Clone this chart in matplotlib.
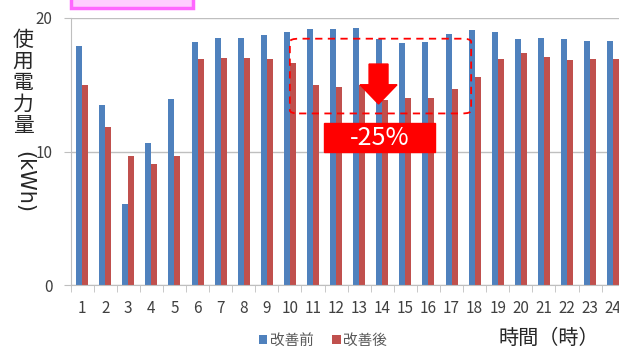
import matplotlib
matplotlib.use('Agg')
import matplotlib.pyplot as plt
import numpy as np
from matplotlib.patches import Rectangle, Polygon, FancyBboxPatch

plt.rcParams['font.family'] = ['Noto Sans CJK JP', 'DejaVu Sans']

hours = list(range(1, 25))
before = [17.9, 13.5, 6.1, 10.6, 13.9, 18.2, 18.5, 18.5, 18.7, 18.95, 19.2, 19.2,
          19.25, 18.4, 18.1, 18.2, 18.8, 19.1, 18.95, 18.45, 18.5, 18.45, 18.3, 18.3]
after = [15.0, 11.8, 9.7, 9.1, 9.7, 16.9, 17.0, 17.0, 16.9, 16.6, 15.0, 14.8,
         15.0, 13.85, 14.0, 14.0, 14.7, 15.6, 16.9, 17.35, 17.1, 16.85, 16.9, 16.9]
legend_labels = ['改善前', '改善後']
reduction_label = '-25%'

W, H = 619, 349
fig = plt.figure(figsize=(W / 100, H / 100), dpi=100)
ax = fig.add_axes([70.5 / W, 64 / H, 554.2 / W, 267 / H])

x = np.array(hours)
bw = 0.26
b1 = ax.bar(x - bw / 2, before, bw, color='#4F81BD', label=legend_labels[0], zorder=2)
b2 = ax.bar(x + bw / 2, after, bw, color='#C0504D', label=legend_labels[1], zorder=2)

ax.set_xlim(0.5, 24.5)
ax.set_ylim(0, 20)
ax.set_yticks([0, 10, 20])
ax.yaxis.grid(True, color='#bfbfbf', linewidth=1, zorder=0)
for s in ['top', 'right']:
    ax.spines[s].set_visible(False)
for s in ['left', 'bottom']:
    ax.spines[s].set_color('#bfbfbf')
ax.set_xticks(x)
ax.set_xticks(np.arange(0.5, 25, 1), minor=True)
ax.tick_params(axis='x', which='major', length=0, pad=11, labelsize=11, labelcolor='#404040')
ax.tick_params(axis='x', which='minor', length=5, color='#bfbfbf')
ax.tick_params(axis='y', length=5, color='#bfbfbf', pad=8, labelsize=11, labelcolor='#404040')

# dashed frame around the peak hours
frame = FancyBboxPatch((10.0, 12.85), 7.85, 5.6, boxstyle='round,pad=0,rounding_size=0.4',
                       fill=False, edgecolor='#ff0000', linestyle=(0, (4, 3)), linewidth=1.3,
                       mutation_aspect=1 / 1.73, zorder=4)
ax.add_patch(frame)

# down arrow
arrow = Polygon([(13.43, 16.55), (14.25, 16.55), (14.25, 15.0), (14.64, 15.0),
                 (13.84, 13.56), (13.04, 15.0), (13.43, 15.0)],
                closed=True, color='#ff0000', zorder=5)
ax.add_patch(arrow)

ax.add_patch(Rectangle((11.48, 9.96), 4.81, 2.17, color='#ff0000', zorder=5))
ax.text(13.88, 11.0, reduction_label, color='white', fontsize=18,
        ha='center', va='center', zorder=6)

# pink box at the top edge
fig.patches.append(Rectangle((71 / W, 1 - 8 / H), 122 / W, 20 / H, transform=fig.transFigure,
                             facecolor='#ffccff', edgecolor='#ff66ff', linewidth=2.5))

fig.text(23 / W, 1 - 83 / H, '使\n用\n電\n力\n量', fontsize=15, ha='center', va='center',
         linespacing=0.98, color='#262626')
fig.text(24 / W, 1 - 182 / H, '(kWh)', fontsize=15, ha='center', va='center',
         rotation=-90, color='#262626', family='DejaVu Sans')
fig.text(549 / W, 1 - 338 / H, '時間（時）', fontsize=14.5, ha='center', va='center', color='#262626')

fig.legend(handles=[b1, b2], loc='center', bbox_to_anchor=(323 / W, 1 - 341 / H), ncol=2,
           frameon=False, fontsize=10.5, handlelength=0.6, handleheight=0.6,
           handletextpad=0.2, columnspacing=1.2, labelcolor='#595959')

fig.savefig('out.png', dpi=100)
